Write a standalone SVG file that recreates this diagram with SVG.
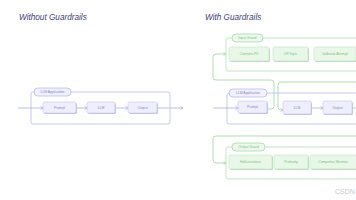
<svg xmlns="http://www.w3.org/2000/svg" width="356" height="200" viewBox="0 0 356 200">
<style>
.title{font-family:"Liberation Sans",Arial,sans-serif;font-style:italic;font-size:8.2px;fill:#3d3d7a}
.lc{fill:none;stroke:#b9b9f2;stroke-width:0.8}
.gc{fill:none;stroke:#b3e0b3;stroke-width:0.8}
.lpill{fill:#f0f0fe;stroke:#b9b9f2;stroke-width:0.8}
.gpill{fill:#ebf8eb;stroke:#a9dba9;stroke-width:0.8}
.ln{fill:#eeeefd;stroke:#c2c2f4;stroke-width:0.6}
.lsh{fill:#c4c4f2}
.gn{fill:#e8f7e8;stroke:#bfe6bf;stroke-width:0.6}
.gsh{fill:#b8e0b8}
.lt{font-family:"Liberation Sans",Arial,sans-serif;font-size:3.4px;fill:#8585c4;text-anchor:middle}
.gt{font-family:"Liberation Sans",Arial,sans-serif;font-size:3.4px;fill:#7fbf7f;text-anchor:middle}
.la{fill:none;stroke:#a9a9ef;stroke-width:0.8}
.ga{fill:none;stroke:#9ed49e;stroke-width:0.8}
.wm{font-family:"Liberation Sans",Arial,sans-serif;font-size:7px;fill:#c8c8c8}
</style>
<defs>
<marker id="al" markerWidth="4" markerHeight="4" refX="3" refY="2" orient="auto" markerUnits="userSpaceOnUse"><path d="M0.5,0.3 L3,2 L0.5,3.7" fill="none" stroke="#a9a9ef" stroke-width="0.7"/></marker>
<marker id="ag" markerWidth="4" markerHeight="4" refX="3" refY="2" orient="auto" markerUnits="userSpaceOnUse"><path d="M0.5,0.3 L3,2 L0.5,3.7" fill="none" stroke="#9ed49e" stroke-width="0.7"/></marker>
</defs>
<rect width="356" height="200" fill="#ffffff"/>
<text class="title" x="19" y="20">Without Guardrails</text>
<text class="title" x="205" y="20">With Guardrails</text>

<g id="connectors">
<path class="la" d="M18,108 H43" marker-end="url(#al)"/>
<path class="la" d="M76,108 H87" marker-end="url(#al)"/>
<path class="la" d="M115,108 H128" marker-end="url(#al)"/>
<path class="la" d="M157,108 H183" marker-end="url(#al)"/>
<path class="la" d="M213,108 H238" marker-end="url(#al)"/>
<path class="la" d="M311,108 H323" marker-end="url(#al)"/>
<path class="ga" d="M267,109 H271 Q274,109 274,106 V83 Q274,80 271,80 H216 Q213,80 213,77 V57 Q213,54 216,54 H226" marker-end="url(#ag)"/>
<path class="ga" d="M357,82 H281 Q278,82 278,85 V107 Q278,110 281,110 H283" marker-end="url(#ag)"/>
<path class="ga" d="M352,108 H357"/>
<path class="ga" d="M357,136 H216 Q213,136 213,139 V160 Q213,163 216,163 H226" marker-end="url(#ag)"/>
</g>

<g id="llm-app-left">
<rect class="lc" x="31" y="92" width="139" height="32" rx="2"/>
<rect class="lpill" x="34" y="88" width="37" height="8" rx="4"/>
<text class="lt" x="52.5" y="93.2">LLM Application</text>
</g>
<g id="prompt-left">
<rect class="lsh" x="44" y="103" width="33" height="11" rx="1.5"/>
<rect class="ln" x="43" y="102" width="33" height="11" rx="1.5"/>
<text class="lt" x="59.5" y="108.7">Prompt</text>
</g>
<g id="llm-left">
<rect class="lsh" x="88" y="103" width="28" height="11" rx="1.5"/>
<rect class="ln" x="87" y="102" width="28" height="11" rx="1.5"/>
<text class="lt" x="101" y="108.7">LLM</text>
</g>
<g id="output-left">
<rect class="lsh" x="129" y="103" width="29" height="11" rx="1.5"/>
<rect class="ln" x="128" y="102" width="29" height="11" rx="1.5"/>
<text class="lt" x="142.5" y="108.7">Output</text>
</g>

<g id="input-guard">
<rect class="gc" x="226" y="38" width="135" height="33" rx="2"/>
<rect class="gpill" x="232" y="34" width="31" height="8" rx="4"/>
<text class="gt" x="247.5" y="39.2">Input Guard</text>
</g>
<g id="contains-pii">
<rect class="gsh" x="230" y="48" width="40" height="14" rx="1.5"/>
<rect class="gn" x="229" y="47" width="40" height="14" rx="1.5"/>
<text class="gt" x="249" y="55.2">Contains PII</text>
</g>
<g id="off-topic">
<rect class="gsh" x="274" y="48" width="35" height="14" rx="1.5"/>
<rect class="gn" x="273" y="47" width="35" height="14" rx="1.5"/>
<text class="gt" x="290.5" y="55.2">Off Topic</text>
</g>
<g id="jailbreak">
<rect class="gsh" x="315" y="48" width="42" height="14" rx="1.5"/>
<rect class="gn" x="314" y="47" width="42" height="14" rx="1.5"/>
<text class="gt" x="335" y="55.2">Jailbreak Attempt</text>
</g>

<g id="llm-app-right">
<rect class="lc" x="227" y="93" width="134" height="31" rx="2"/>
<rect class="lpill" x="229" y="89" width="38" height="8" rx="4"/>
<text class="lt" x="248" y="94.2">LLM Application</text>
</g>
<g id="prompt-right">
<rect class="lsh" x="239" y="102" width="29" height="12" rx="1.5"/>
<rect class="ln" x="238" y="101" width="29" height="12" rx="1.5"/>
<text class="lt" x="252.5" y="108.2">Prompt</text>
</g>
<g id="llm-right">
<rect class="lsh" x="284" y="102" width="28" height="13" rx="1.5"/>
<rect class="ln" x="283" y="101" width="28" height="13" rx="1.5"/>
<text class="lt" x="297" y="108.7">LLM</text>
</g>
<g id="output-right">
<rect class="lsh" x="324" y="102" width="29" height="13" rx="1.5"/>
<rect class="ln" x="323" y="101" width="29" height="13" rx="1.5"/>
<text class="lt" x="337.5" y="108.7">Output</text>
</g>

<g id="output-guard">
<rect class="gc" x="226" y="147" width="135" height="32" rx="2"/>
<rect class="gpill" x="232" y="143" width="33" height="8" rx="4"/>
<text class="gt" x="248.5" y="148.2">Output Guard</text>
</g>
<g id="hallucinations">
<rect class="gsh" x="230" y="156" width="43" height="14" rx="1.5"/>
<rect class="gn" x="229" y="155" width="43" height="14" rx="1.5"/>
<text class="gt" x="250.5" y="163.2">Hallucinations</text>
</g>
<g id="profanity">
<rect class="gsh" x="275" y="156" width="34" height="14" rx="1.5"/>
<rect class="gn" x="274" y="155" width="34" height="14" rx="1.5"/>
<text class="gt" x="291" y="163.2">Profanity</text>
</g>
<g id="competitor">
<rect class="gsh" x="311" y="156" width="47" height="14" rx="1.5"/>
<rect class="gn" x="310" y="155" width="47" height="14" rx="1.5"/>
<text class="gt" x="333" y="163.2">Competitor Mention</text>
</g>

<text class="wm" x="335" y="194">CSDN</text>
</svg>
